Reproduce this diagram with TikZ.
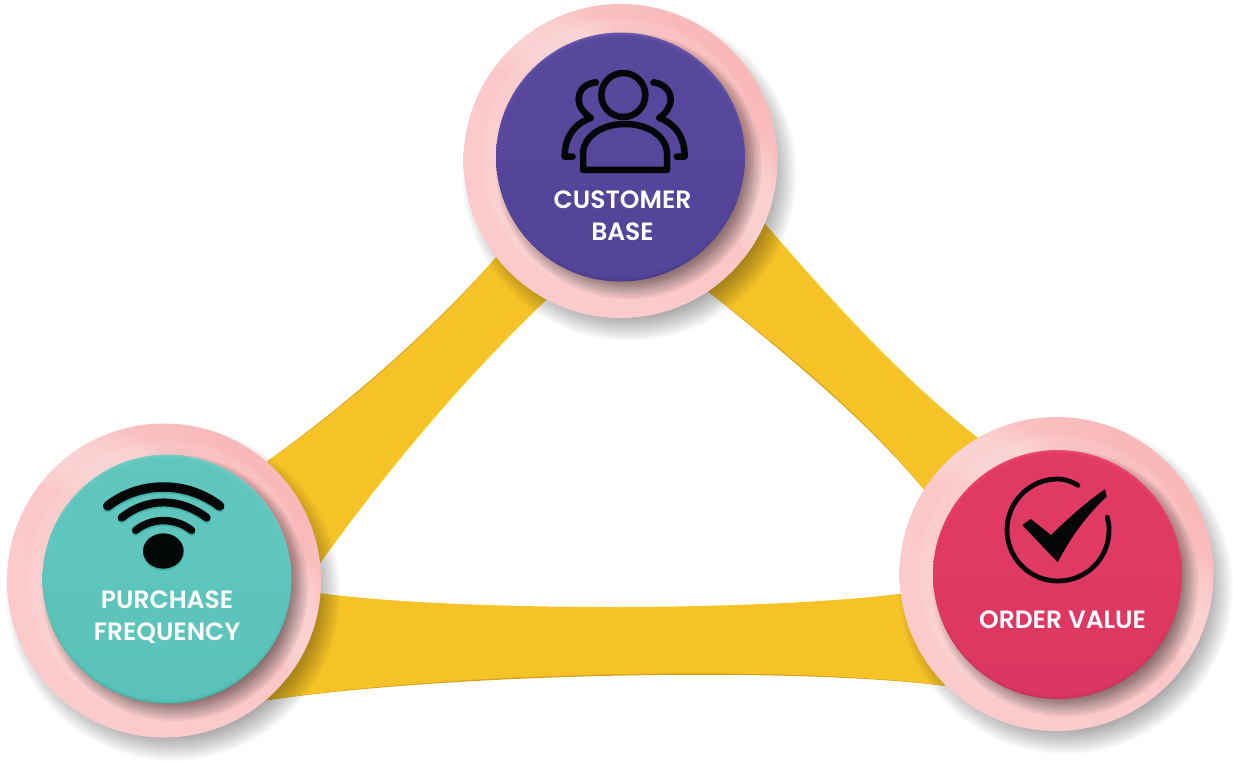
\documentclass[tikz,border=0pt]{standalone}
\usepackage{fontspec}
\setmainfont{Poppins}
\newfontfamily\labfont{Poppins SemiBold}
\usetikzlibrary{calc}
\definecolor{bandc}{HTML}{F5C327}
\definecolor{bandd}{HTML}{D6A31C}
\definecolor{bandl}{HTML}{FAD93A}
\definecolor{ringc}{HTML}{FBCBCC}
\definecolor{ringd}{HTML}{F9B9B9}
\definecolor{ringl}{HTML}{FCDCDC}
\definecolor{purp}{HTML}{56479C}
\definecolor{purpl}{HTML}{7263B2}
\definecolor{purpd}{HTML}{463A86}
\definecolor{teal}{HTML}{5FC6BD}
\definecolor{teall}{HTML}{7CD0CC}
\definecolor{teald}{HTML}{3CAFA4}
\definecolor{rose}{HTML}{E03964}
\definecolor{rosel}{HTML}{EE4F78}
\definecolor{rosed}{HTML}{C52F56}
\definecolor{ink}{HTML}{040708}
\pgfdeclareradialshading{ringshade}{\pgfpoint{1.1cm}{1.15cm}}{
  color(0cm)=(ringd); color(0.5cm)=(ringd); color(1.3cm)=(ringc); color(2cm)=(ringc)}
\tikzset{
  ring/.style={circle,minimum size=314pt,inner sep=0pt,shading=ringshade},
  lab/.style={text=white,font=\labfont\fontsize{25}{32}\selectfont,align=center,inner sep=0pt},
  iconline/.style={draw=ink,line cap=round,line join=round,fill=none},
  disc/.style={circle,minimum size=249pt,inner sep=0pt,shading=axis,shading angle=0}
}
% soft shadow: x y radius steps opacity
\newcommand{\softshadow}[5]{%
  \foreach \k in {0,...,#4}{%
    \fill[black,opacity=#5] (#1,#2) circle[radius=#3+#4-2*\k];}}
% circle set: name x y  ix iy  main light dark
\newcommand{\badge}[8]{%
  \softshadow{#2+9}{#3+13}{155}{12}{0.028}
  \node[ring] (#1ring) at (#2,#3) {};
  \begin{scope}
    \clip (#2,#3) circle[radius=157];
    \foreach \k in {0,...,7}{%
      \fill[ringl,opacity=0.13] (#2-72,#3-118) ellipse[x radius=75-6*\k,y radius=32-3*\k];}
    \foreach \k in {0,...,7}{%
      \fill[ringl,opacity=0.12] (#2+140,#3+50) ellipse[x radius=24-2*\k,y radius=70-6*\k];}
    \fill[white,opacity=0.10,even odd rule] (#4,#5) circle[radius=138] (#4+6,#5+3) circle[radius=127];
    \softshadow{#4+8}{#5+9}{123}{10}{0.05}
  \end{scope}
  \node[disc,top color=#7,bottom color=#8,middle color=#6] (#1disc) at (#4,#5) {};
  \foreach \k in {0,...,4}{%
    \fill[#6,opacity=0.35] (#4,#5) circle[radius=124-\k];}
}
\newcommand{\bandTR}{(ra) .. controls (810,278) and (900,382) .. (rc) -- (rd) .. controls (870,420) and (790,355) .. (rb) -- cycle}
\newcommand{\bandTL}{(ta) .. controls (440,325) and (350,405) .. (la) -- (lb) .. controls (400,450) and (480,360) .. (tb) -- cycle}
\newcommand{\bandB}{(lc) .. controls (450,612) and (770,612) .. (re) -- (rf) .. controls (800,665) and (450,670) .. (ld) -- cycle}
\begin{document}
\begin{tikzpicture}[x=1pt,y=-1pt]
\useasboundingbox (0,0) rectangle (1233,760);
\fill[white] (0,0) rectangle (1233,760);
\coordinate (ta) at (505,247); \coordinate (tb) at (560,287);
\coordinate (la) at (255,470); \coordinate (lb) at (315,570);
\coordinate (ra) at (755,212); \coordinate (rb) at (700,285);
\coordinate (rc) at (990,447); \coordinate (rd) at (930,497);
\coordinate (lc) at (310,592); \coordinate (ld) at (255,702);
\coordinate (re) at (915,592); \coordinate (rf) at (945,686);
% band edges
\fill[bandd,shift={(-1,1.5)}] \bandTR;
\fill[bandl,shift={(1,-1)}] \bandTR;
\fill[bandd,shift={(-1,-1)}] \bandTL;
\fill[bandl,shift={(1,1)}] \bandTL;
\fill[bandd,shift={(0,2)}] \bandB;
% bands
\fill[bandc] \bandTR;
\fill[bandc] \bandTL;
\fill[bandc] \bandB;

\badge{cust}{620.5}{161}{620.5}{157}{purp}{purpl}{purpd}
\badge{purch}{164}{580.5}{167}{579}{teal}{teall}{teald}
\badge{order}{1056.5}{574}{1057.5}{574.5}{rose}{rosel}{rosed}

% people icon (zoom coordinates)
\begin{scope}[shift={(460,0)},xscale=1/3,yscale=1/3]
  \draw[iconline,line width=6.5pt] (490,285) circle[radius=66];
  \draw[iconline,line width=6.5pt] (369,510) -- (369,462) .. controls (369,410) and (425,372) .. (495,372) .. controls (565,372) and (621,410) .. (621,462) -- (621,510) -- cycle;
  \draw[iconline,line width=6.5pt] (408,247) .. controls (375,250) and (356,272) .. (356,297) .. controls (356,320) and (372,340) .. (393,354) .. controls (345,370) and (314,410) .. (314,470) -- (338,470);
  \draw[iconline,line width=6.5pt] (580,247) .. controls (610,250) and (632,272) .. (632,297) .. controls (632,320) and (618,340) .. (597,354) .. controls (645,370) and (674,410) .. (674,470) -- (650,470);
\end{scope}
% wifi icon
\begin{scope}[shift={(0,420)},xscale=1/3,yscale=1/3]
  \foreach \d/\c/\o in {6/teald/0.8,0/ink/1}{%
    \begin{scope}[shift={(0,\d)},opacity=\o]
    \draw[draw=\c,line cap=round,line width=9.5pt] (323,258) .. controls (420,182) and (560,182) .. (659,258);
    \draw[draw=\c,line cap=round,line width=8pt] (365,293) .. controls (440,232) and (540,232) .. (620,293);
    \draw[draw=\c,line cap=round,line width=7.5pt] (407,331) .. controls (455,292) and (525,292) .. (575,331);
    \fill[\c] (490,393) ellipse[x radius=61,y radius=53];
    \end{scope}}
\end{scope}
% check icon
\begin{scope}[shift={(890,410)},xscale=1/3,yscale=1/3]
  \draw[iconline,line width=4.8pt] (564,226) .. controls (540,212) and (520,207) .. (503,207) .. controls (420,207) and (351,275) .. (351,360) .. controls (351,445) and (420,513) .. (503,513) .. controls (590,513) and (657,445) .. (657,360) .. controls (657,345) and (655,335) .. (652,322);
  \fill[ink] (397,345) -- (422,327) -- (483,375) .. controls (540,320) and (590,275) .. (645,238) -- (650,260) .. controls (590,315) and (540,385) .. (503,457) -- cycle;
\end{scope}

\node[lab] (custlab) at (622.5,216) {CUSTOMER\\BASE};
\node[lab] (purchlab) at (167,617.5) {PURCHASE\\FREQUENCY};
\node[lab] (orderlab) at (1062.5,620) {ORDER VALUE};
\end{tikzpicture}
\end{document}
